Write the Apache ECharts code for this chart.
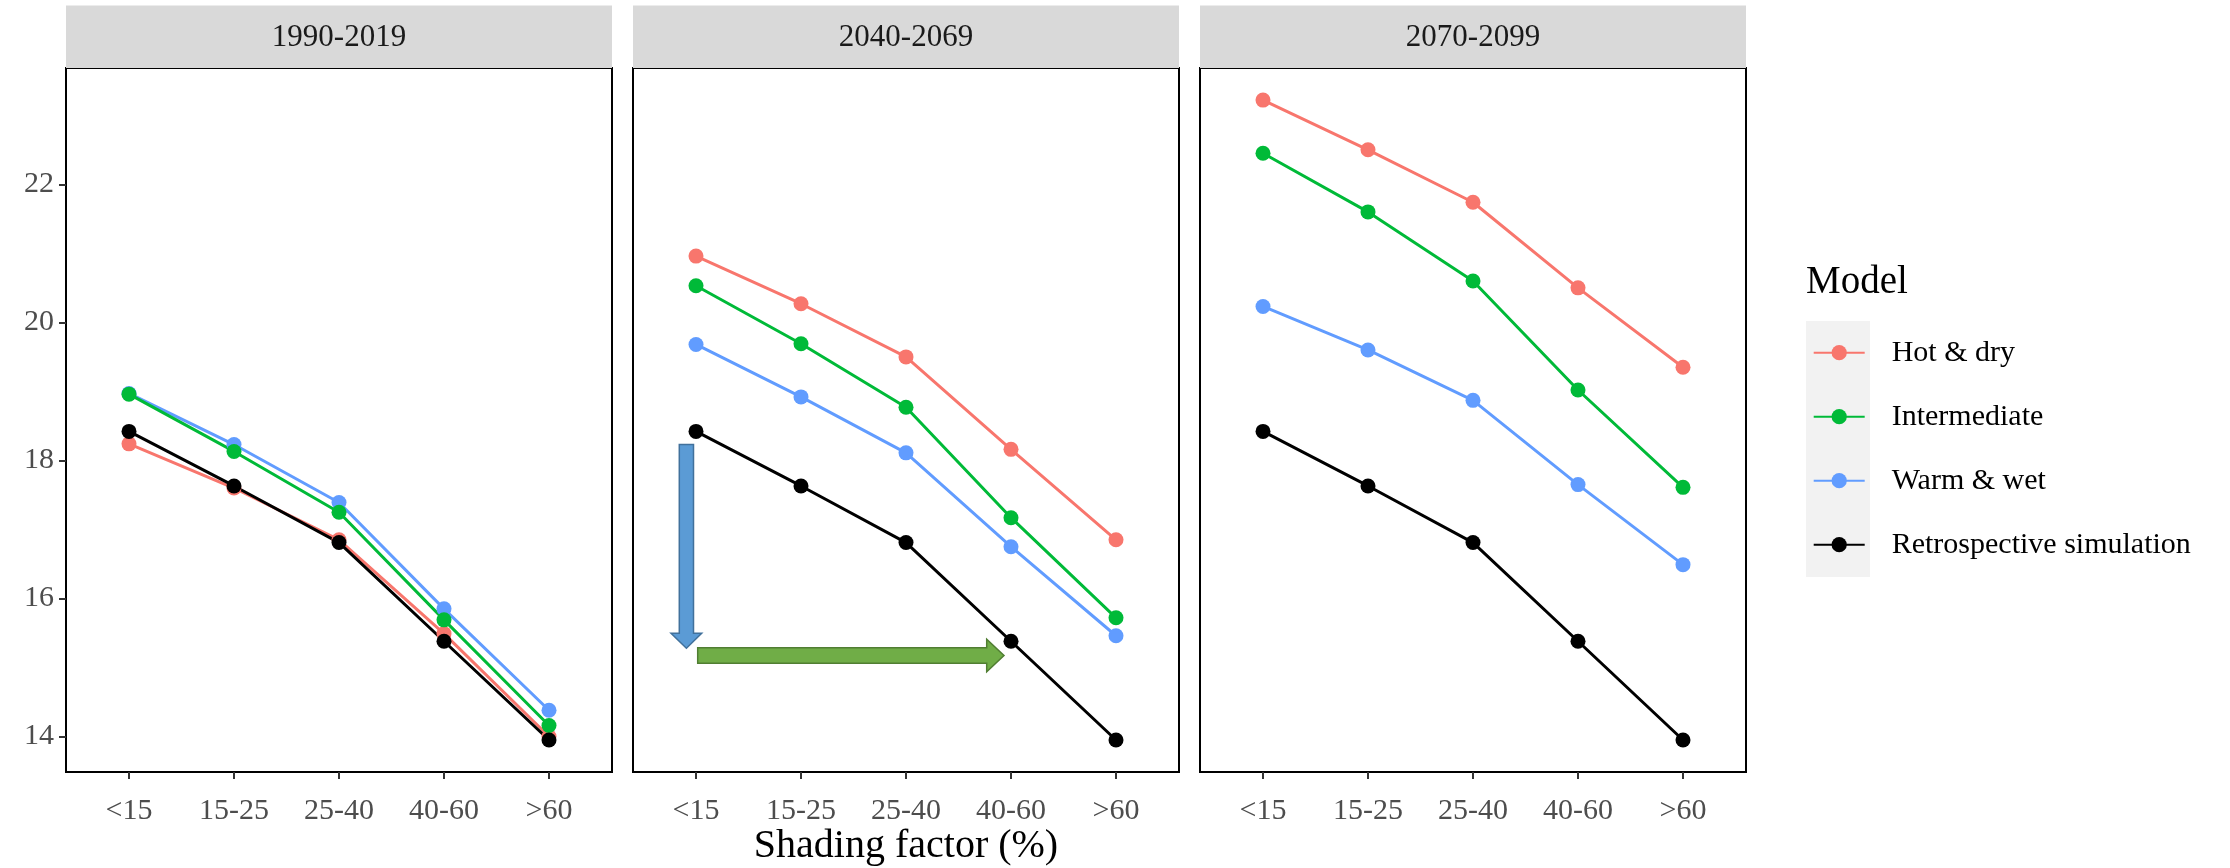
<!DOCTYPE html>
<html><head><meta charset="utf-8">
<script src="https://cdn.jsdelivr.net/npm/echarts@6/dist/echarts.min.js"></script>
<style>html,body{margin:0;padding:0;background:#fff}#c{width:2230px;height:868px}</style>
</head><body><div id="c"></div>
<script>
const categories = ['<15', '15-25', '25-40', '40-60', '>60'];
const periods = ['1990-2019', '2040-2069', '2070-2099'];
const models = ['Hot & dry', 'Intermediate', 'Warm & wet', 'Retrospective simulation'];
const yTicks = [14, 16, 18, 20, 22];

const retrospective = [18.42, 17.63, 16.81, 15.38, 13.95];
const hotDry_1990 = [18.24, 17.60, 16.85, 15.49, 14.00];
const intermediate_1990 = [18.96, 18.13, 17.25, 15.69, 14.16];
const warmWet_1990 = [18.97, 18.23, 17.39, 15.85, 14.38];
const hotDry_2040 = [20.96, 20.27, 19.50, 18.16, 16.85];
const intermediate_2040 = [20.53, 19.69, 18.77, 17.17, 15.72];
const warmWet_2040 = [19.68, 18.92, 18.11, 16.75, 15.46];
const hotDry_2070 = [23.22, 22.50, 21.74, 20.50, 19.35];
const intermediate_2070 = [22.45, 21.60, 20.60, 19.02, 17.61];
const warmWet_2070 = [20.23, 19.60, 18.87, 17.65, 16.49];

const panelData = [
  {'Hot & dry': hotDry_1990, 'Intermediate': intermediate_1990, 'Warm & wet': warmWet_1990, 'Retrospective simulation': retrospective},
  {'Hot & dry': hotDry_2040, 'Intermediate': intermediate_2040, 'Warm & wet': warmWet_2040, 'Retrospective simulation': retrospective},
  {'Hot & dry': hotDry_2070, 'Intermediate': intermediate_2070, 'Warm & wet': warmWet_2070, 'Retrospective simulation': retrospective}
];
const colors = {'Hot & dry': '#F8766D', 'Intermediate': '#00BA38', 'Warm & wet': '#619CFF', 'Retrospective simulation': '#000000'};
const drawOrder = ['Hot & dry', 'Warm & wet', 'Intermediate', 'Retrospective simulation'];

const FONT = '"Liberation Serif", "Times New Roman", serif';
const gridLefts = [66, 633, 1200];
const gridW = 546, gridTop = 68, gridH = 704;

const grids = [], xAxes = [], yAxes = [], series = [], graphics = [];
periods.forEach((p, i) => {
  grids.push({left: gridLefts[i], top: gridTop, width: gridW, height: gridH, show: true,
    borderColor: '#000', borderWidth: 2, backgroundColor: 'transparent', containLabel: false});
  xAxes.push({type: 'value', gridIndex: i, min: -0.6, max: 4.6, position: 'bottom',
    axisLine: {show: false, onZero: false}, splitLine: {show: false},
    axisTick: {show: true, customValues: [0, 1, 2, 3, 4], length: 7, lineStyle: {color: '#333', width: 2}},
    axisLabel: {show: true, customValues: [0, 1, 2, 3, 4], formatter: v => categories[Math.round(v)],
      fontFamily: FONT, fontSize: 30, color: '#4D4D4D', margin: 24}});
  yAxes.push({type: 'value', gridIndex: i, min: 13.486, max: 23.685, position: 'left',
    axisLine: {show: false, onZero: false}, splitLine: {show: false},
    axisTick: {show: i === 0, customValues: yTicks, length: 7, lineStyle: {color: '#333', width: 2}},
    axisLabel: {show: i === 0, customValues: yTicks, fontFamily: FONT, fontSize: 30, color: '#4D4D4D', margin: 12}});
  drawOrder.forEach((m) => {
    series.push({type: 'line', name: m, xAxisIndex: i, yAxisIndex: i,
      data: panelData[i][m].map((v, k) => [k, v]),
      symbol: 'circle', symbolSize: 15, showSymbol: true,
      lineStyle: {color: colors[m], width: 3}, itemStyle: {color: colors[m]},
      emphasis: {disabled: true}, silent: true, z: 2});
  });
  graphics.push({type: 'rect', shape: {x: gridLefts[i], y: 5.5, width: gridW, height: 62.5}, style: {fill: '#D9D9D9'}, z: 0});
  graphics.push({type: 'text', x: gridLefts[i] + gridW / 2, y: 38, z: 1,
    style: {text: p, fontFamily: FONT, fontSize: 31, fill: '#1A1A1A', align: 'center', verticalAlign: 'middle'}});
});

// x axis title
graphics.push({type: 'text', x: gridLefts[1] + gridW / 2, y: 846, z: 1,
  style: {text: 'Shading factor (%)', fontFamily: FONT, fontSize: 40, fill: '#000', align: 'center', verticalAlign: 'middle'}});
// legend title and key background
graphics.push({type: 'text', x: 1806, y: 283, z: 1,
  style: {text: 'Model', fontFamily: FONT, fontSize: 39, fill: '#000', align: 'left', verticalAlign: 'middle'}});
graphics.push({type: 'rect', shape: {x: 1806, y: 321, width: 64, height: 256}, style: {fill: '#F2F2F2'}, z: -10});
// annotation arrows
graphics.push({type: 'polygon', z: 5, shape: {points: [[679.3, 444.5], [693.5, 444.5], [693.5, 633.3], [701.7, 633.3], [686.4, 648.3], [671, 633.3], [679.3, 633.3]]},
  style: {fill: '#5B9BD5', stroke: '#41719C', lineWidth: 1.5}});
graphics.push({type: 'polygon', z: 5, shape: {points: [[697.7, 647.7], [986.7, 647.7], [986.7, 639.3], [1004, 655.5], [986.7, 671.7], [986.7, 663.3], [697.7, 663.3]]},
  style: {fill: '#70AD47', stroke: '#507E32', lineWidth: 1.5}});

const chart = echarts.init(document.getElementById('c'), null, {renderer: 'canvas'});
chart.setOption({
  animation: false,
  backgroundColor: '#fff',
  grid: grids, xAxis: xAxes, yAxis: yAxes, series: series,
  legend: {data: models, orient: 'vertical', left: 1812.7, top: 337.7, padding: 0,
    itemWidth: 51, itemHeight: 19, itemGap: 34, selectedMode: false,
    textStyle: {fontFamily: FONT, fontSize: 30, color: '#000', lineHeight: 30, padding: [0, 0, 0, 22]}},
  graphic: {elements: graphics}
});
</script></body></html>
